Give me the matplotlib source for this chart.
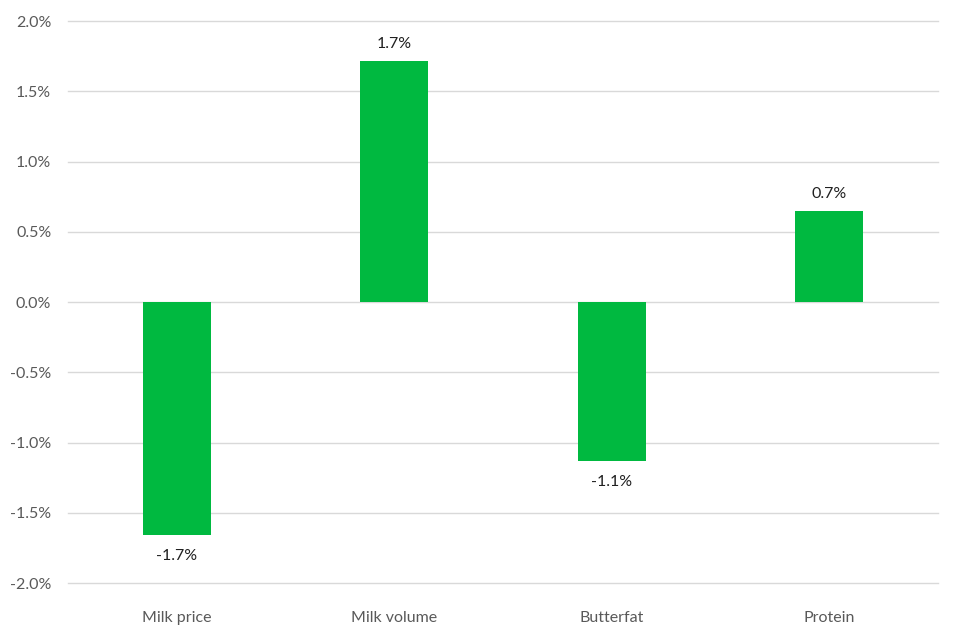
import matplotlib
matplotlib.use("Agg")
import matplotlib.pyplot as plt
from matplotlib.ticker import FuncFormatter
import numpy as np

# chart data (percent change)
categories = ["Milk price", "Milk volume", "Butterfat", "Protein"]
changes = [-1.66, 1.715, -1.13, 0.65]
value_labels = ["-1.7%", "1.7%", "-1.1%", "0.7%"]

plt.rcParams['font.family'] = ['Lato', 'DejaVu Sans']

fig = plt.figure(figsize=(9.6, 6.4), dpi=100)
ax = fig.add_axes([0.0708, 0.089, 0.9062, 0.878])

x = np.arange(len(categories))
bars = ax.bar(x, changes, width=0.313, color='#00B940', zorder=3)

# value labels above/below the bars
for b, v, lab in zip(bars, changes, value_labels):
    if v >= 0:
        ax.annotate(lab, (b.get_x() + b.get_width() / 2, v), xytext=(0, 7),
                    textcoords='offset points', ha='center', va='bottom',
                    fontsize=11.5, color='#202020')
    else:
        ax.annotate(lab, (b.get_x() + b.get_width() / 2, v), xytext=(0, -10),
                    textcoords='offset points', ha='center', va='top',
                    fontsize=11.5, color='#202020')

ax.set_xlim(-0.5, len(categories) - 0.5)
ax.set_ylim(-2.0, 2.0)
ax.set_yticks(np.arange(-2.0, 2.01, 0.5))
ax.yaxis.set_major_formatter(FuncFormatter(lambda v, p: f"{v:.1f}%"))
ax.set_xticks(x)
ax.set_xticklabels(categories)

ax.grid(axis='y', color='#D9D9D9', linewidth=1, zorder=0, clip_on=False)
for s in ax.spines.values():
    s.set_visible(False)
ax.tick_params(axis='both', length=0, labelsize=11.5, colors='#595959')
ax.tick_params(axis='y', pad=12)
ax.tick_params(axis='x', pad=20)

fig.savefig("out.png", dpi=100)
